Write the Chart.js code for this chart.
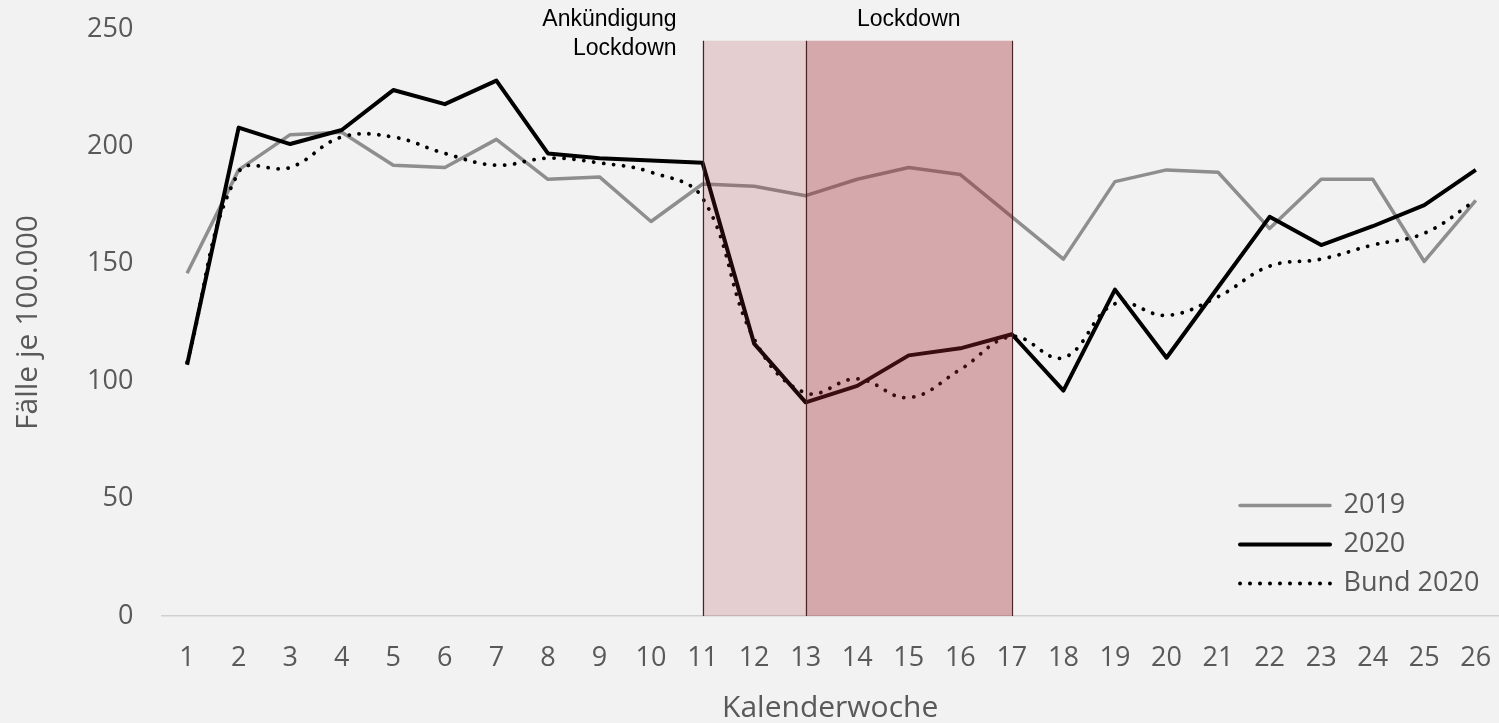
<!DOCTYPE html>
<html>
<head>
<meta charset="utf-8">
<script src="https://cdn.jsdelivr.net/npm/chart.js@4.4.0/dist/chart.umd.min.js"></script>
<style>
	html, body { margin: 0; padding: 0; background: #f2f2f2; overflow: hidden; }
	#wrap { width: 1499px; height: 723px; position: relative; }
</style>
</head>
<body>
<div id="wrap"><canvas id="myChart"></canvas></div>
<script>
const weeks = [1, 2, 3, 4, 5, 6, 7, 8, 9, 10, 11, 12, 13, 14, 15, 16, 17, 18, 19, 20, 21, 22, 23, 24, 25, 26];
const cases2019 = [146, 190, 205, 206, 192, 191, 203, 186, 187, 168, 184, 183, 179, 186, 191, 188, 170, 152, 185, 190, 189, 165, 186, 186, 151, 177];
const cases2020 = [107, 208, 201, 207, 224, 218, 228, 197, 195, 194, 193, 116, 91, 98, 111, 114, 120, 96, 139, 110, 140, 170, 158, 166, 175, 190];
const bund2020 = [108, 189, 191, 204, 204, 197, 192, 195, 193, 189, 178, 118, 95, 101, 93, 105, 119, 110, 133, 128, 136, 149, 152, 158, 163, 177];

// Ankündigung (KW 11-13) and Lockdown (KW 13-17)
const phaseWeeks = [11, 13, 17];
const phaseTop = 245;

const textGrey = "#595959";
const fontFamily = "'Open Sans', sans-serif";
const legendPadding = 12;

const phasePlugin = {
	id: "phases",
	afterDatasetsDraw(chart) {
		const { ctx, scales: { x, y } } = chart;
		const top = y.getPixelForValue(phaseTop);
		const bottom = y.getPixelForValue(0);
		const fills = ["rgba(163, 40, 45, 0.175)", "rgba(163, 40, 45, 0.355)"];
		ctx.save();
		for (let i = 0; i < phaseWeeks.length - 1; i++) {
			const x0 = x.getPixelForValue(phaseWeeks[i]);
			const x1 = x.getPixelForValue(phaseWeeks[i + 1]);
			ctx.fillStyle = fills[i];
			ctx.fillRect(x0, top, x1 - x0, bottom - top);
		}
		ctx.strokeStyle = "#4a2424";
		ctx.lineWidth = 1.2;
		phaseWeeks.forEach((w) => {
			const px = Math.round(x.getPixelForValue(w)) + 0.5;
			ctx.beginPath();
			ctx.moveTo(px, top);
			ctx.lineTo(px, bottom);
			ctx.stroke();
		});

		ctx.fillStyle = "#000";
		ctx.font = "23px 'Liberation Sans', Arial, sans-serif";
		ctx.textBaseline = "middle";
		ctx.textAlign = "right";
		const ax = x.getPixelForValue(phaseWeeks[0]) - 26;
		ctx.fillText("Ankündigung", ax, 20);
		ctx.fillText("Lockdown", ax, 49);
		ctx.textAlign = "center";
		ctx.fillText("Lockdown", x.getPixelForValue((phaseWeeks[1] + phaseWeeks[2]) / 2), 20);
		ctx.restore();
	},
};

// move the in-chart legend to the lower right corner
const legendPlacer = {
	id: "legendPlacer",
	afterLayout(chart) {
		const legend = chart.legend;
		if (!legend) return;
		legend.left = chart.chartArea.right - 259 - legendPadding;
		legend.bottom = chart.chartArea.bottom - 7;
	},
};

const ctx = document.getElementById("myChart").getContext("2d");
new Chart(ctx, {
	type: "line",
	data: {
		labels: weeks,
		datasets: [
			{
				label: "2019",
				data: cases2019,
				borderColor: "#8e8e8e",
				borderWidth: 3.5,
				pointRadius: 0,
				borderJoinStyle: "round",
				order: 2,
			},
			{
				label: "2020",
				data: cases2020,
				borderColor: "#000000",
				borderWidth: 4,
				pointRadius: 0,
				borderJoinStyle: "round",
				order: 1,
			},
			{
				label: "Bund 2020",
				data: bund2020,
				borderColor: "#000000",
				borderWidth: 3.8,
				borderDash: [0.1, 9.9],
				borderCapStyle: "round",
				pointRadius: 0,
				tension: 0.4,
				order: 0,
			},
		],
	},
	options: {
		responsive: true,
		maintainAspectRatio: false,
		animation: false,
		devicePixelRatio: 1,
		layout: { padding: { top: 29, left: 0, right: 0, bottom: 0 } },
		scales: {
			x: {
				type: "linear",
				min: 0.5,
				max: 26.45,
				grid: { display: false, drawTicks: false },
				border: { display: true, color: "#d0d0d0", width: 1.5 },
				ticks: {
					stepSize: 1,
					includeBounds: false,
					autoSkip: false,
					maxRotation: 0,
					padding: 6,
					color: textGrey,
					font: { family: fontFamily, size: 27, lineHeight: 2.667 },
					callback: (v) => (Number.isInteger(v) ? String(v) : ""),
				},
				title: {
					display: true,
					text: "Kalenderwoche",
					color: textGrey,
					font: { family: fontFamily, size: 30 },
					padding: { top: -10, bottom: -3 },
				},
			},
			y: {
				min: 0,
				max: 250,
				grid: { display: false, drawTicks: false },
				border: { display: false },
				ticks: {
					stepSize: 50,
					padding: 28,
					color: textGrey,
					font: { family: fontFamily, size: 27, lineHeight: 0.04 },
				},
				title: {
					display: true,
					text: "Fälle je 100.000",
					color: textGrey,
					font: { family: fontFamily, size: 30 },
					padding: { top: 10, bottom: 13 },
				},
			},
		},
		plugins: {
			legend: {
				position: "chartArea",
				align: "end",
				labels: {
					boxWidth: 90,
					boxHeight: 0,
					color: textGrey,
					font: { family: fontFamily, size: 27 },
					padding: legendPadding,
					sort: (a, b) => a.datasetIndex - b.datasetIndex,
				},
			},
			tooltip: { enabled: false },
		},
	},
	plugins: [phasePlugin, legendPlacer],
});
</script>
</body>
</html>
